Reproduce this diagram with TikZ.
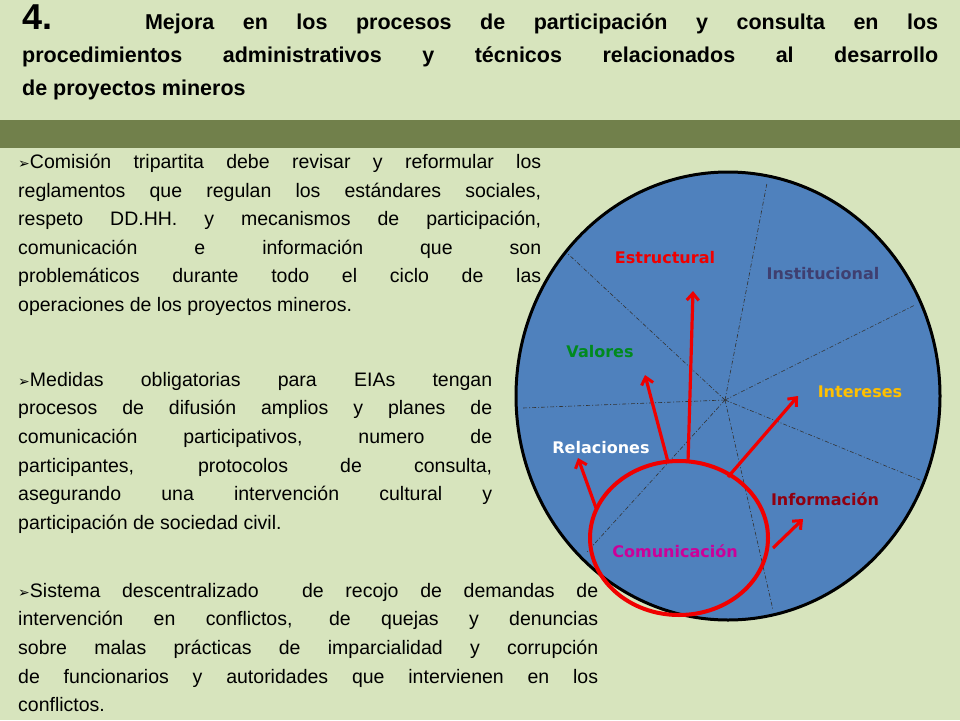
\documentclass[tikz,border=0pt]{standalone}
\usepackage{fontspec}
\setmainfont{Liberation Sans}
\newfontfamily\lblfont{DejaVu Sans}
\newfontfamily\symfont{DejaVu Sans}
\definecolor{bg}{HTML}{D7E4BD}
\definecolor{band}{HTML}{71804B}
\definecolor{disk}{HTML}{4F81BD}
\definecolor{cinst}{HTML}{3F3F70}
\definecolor{cval}{HTML}{008A1E}
\definecolor{cint}{HTML}{FFC000}
\definecolor{cinf}{HTML}{900010}
\definecolor{ccom}{HTML}{CC0099}
\definecolor{cred}{HTML}{F00000}
\tikzset{
  body/.style={anchor=north west,inner sep=0pt,align=justify,font=\fontsize{19.5}{28.6}\selectfont},
  lbl/.style={font=\lblfont\bfseries\fontsize{16}{18}\selectfont,inner sep=0pt},
  redarr/.style={draw=cred,line width=3.2pt,-{Straight Barb[length=7pt,width=12pt,line width=3pt]}},
  seg/.style={draw=black!80,line width=0.6pt,dash pattern=on 4pt off 2pt on 1pt off 2pt}
}
\usetikzlibrary{arrows.meta}
\newcommand{\blt}{{\symfont\fontsize{14}{14}\selectfont ➢}}
\begin{document}
\begin{tikzpicture}[x=1pt,y=-1pt]
\fill[bg] (0,0) rectangle (960,720);
\useasboundingbox (0,0) rectangle (960,720);
\fill[band] (0,120) rectangle (960,148);
\node[anchor=north west,inner sep=0pt,text width=916pt,align=justify,font=\bfseries\fontsize{21.5}{33}\selectfont] (title) at (22,5)
 {{\fontsize{36}{36}\selectfont 4.}\hspace{0.8em} Mejora en los procesos de participación y consulta en los\linebreak procedimientos administrativos y técnicos relacionados al desarrollo\linebreak de proyectos mineros};
\node[body,text width=523pt] (b1) at (18,154)
 {\blt Comisión tripartita debe revisar y reformular los\linebreak reglamentos que regulan los estándares sociales,\linebreak respeto DD.HH. y mecanismos de participación,\linebreak comunicación e información que son\linebreak problemáticos durante todo el ciclo de las\linebreak operaciones de los proyectos mineros.};
% circle
\path[fill=disk,draw=black,line width=3pt] (728,396) ellipse [x radius=212,y radius=224];
\coordinate (c) at (725,400);
\foreach \p in {(767,183),(567,253),(523,408),(587,552),(773,610),(920,480),(915,305)}
  \draw[seg] (c) -- \p;
\node[body,text width=474pt] (b2) at (18,372)
 {\blt Medidas obligatorias para EIAs tengan\linebreak procesos de difusión amplios y planes de\linebreak comunicación participativos, numero de\linebreak participantes, protocolos de consulta,\linebreak asegurando una intervención cultural y\linebreak participación de sociedad civil.};
\node[body,text width=580pt] (b3) at (18,583)
 {\blt Sistema descentralizado\ \ de recojo de demandas de\linebreak intervención en conflictos, de quejas y denuncias\linebreak sobre malas prácticas de imparcialidad y corrupción\linebreak de funcionarios y autoridades que intervienen en los\linebreak conflictos.};
% red ellipse
\draw[cred,line width=4pt] (679,538) ellipse [x radius=89,y radius=77];
\coordinate (s1) at (596,508); \coordinate (e1) at (578,458);
\coordinate (s2) at (668,462); \coordinate (e2) at (645,375);
\coordinate (s3) at (688,462); \coordinate (e3) at (693,291);
\coordinate (s4) at (728,477); \coordinate (e4) at (798,396);
\coordinate (s5) at (773,548); \coordinate (e5) at (803,519);
\foreach \i in {1,...,5} \draw[redarr] (s\i) -- (e\i);
\node[lbl,text=cred] (estr) at (665,258) {Estructural};
\node[lbl,text=cinst] (inst) at (823,274) {Institucional};
\node[lbl,text=cval] (val) at (600,352) {Valores};
\node[lbl,text=cint] (inter) at (860,392) {Intereses};
\node[lbl,text=white] (rel) at (601,448) {Relaciones};
\node[lbl,text=cinf] (inf) at (825,499) {Información};
\node[lbl,text=ccom] (com) at (675,551) {Comunicación};
\end{tikzpicture}
\end{document}
